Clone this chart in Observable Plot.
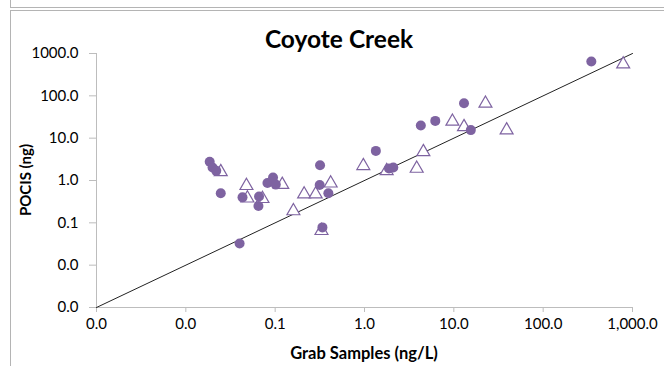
<!DOCTYPE html>
<html><head><meta charset="utf-8">
<script src="https://cdn.jsdelivr.net/npm/d3@7"></script>
<script src="https://cdn.jsdelivr.net/npm/@observablehq/plot@0.6"></script>
<style>
html,body{margin:0;padding:0;background:#fff;}
body{width:664px;height:366px;overflow:hidden;position:relative;font-family:Lato,"Open Sans",sans-serif;}
.frame1{position:absolute;left:10px;top:-20px;width:700px;height:26px;border:1px solid #b4b4b4;}
.frame2{position:absolute;left:10px;top:10px;width:700px;height:400px;border:1px solid #b4b4b4;}
#chart{position:absolute;left:0;top:0;}
#chart svg text{fill:#000;font-size:15px;font-family:Lato,sans-serif;}
.title{position:absolute;left:189px;top:27px;width:300px;text-align:center;font-weight:bold;font-size:24.5px;line-height:24px;color:#000;}
.xlabel{position:absolute;left:264px;top:345px;width:200px;text-align:center;font-weight:bold;font-size:16.5px;line-height:16px;color:#000;}
.ylabel{position:absolute;left:-35px;top:172px;width:120px;height:16px;text-align:center;font-weight:bold;font-size:15px;line-height:16px;color:#000;transform:rotate(-90deg);}
</style>
</head><body>
<div class="frame1"></div>
<div class="frame2"></div>
<div id="chart"></div>
<div class="title">Coyote Creek</div>
<div class="xlabel">Grab Samples (ng/L)</div>
<div class="ylabel">POCIS (ng)</div>
<script>
// Series A (filled circles): grab sample concentration vs POCIS mass
const circleX = [0.0185,0.0199,0.0219,0.0246,0.0431,0.040,0.066,0.065,0.082,0.0946,0.1016,0.318,0.315,0.394,0.338,1.34,1.88,2.1,4.27,6.2,13.0,15.5,346];
const circleY = [2.76,2.03,1.69,0.50,0.40,0.0325,0.42,0.25,0.87,1.18,0.80,2.30,0.78,0.50,0.078,5.0,1.92,2.03,20.0,25.6,67,15.5,647];
// Series B (open triangles)
const triangleX = [0.0246,0.0477,0.0489,0.0721,0.12,0.16,0.211,0.284,0.418,0.33,0.97,1.77,3.84,4.56,9.64,13.0,22.6,39,787];
const triangleY = [1.60,0.75,0.38,0.37,0.80,0.19,0.475,0.475,0.86,0.065,2.22,1.69,1.92,4.75,24.8,18.5,66,15.5,560];
// 1:1 reference line
const lineX = [0.001,1000];
const lineY = [0.001,1000];
const xTicks = [0.001,0.01,0.1,1,10,100,1000];
const yTicks = [0.001,0.01,0.1,1,10,100,1000];

const circles = circleX.map((x,i)=>({x, y:circleY[i]}));
const triangles = triangleX.map((x,i)=>({x, y:triangleY[i]}));
const oneToOne = lineX.map((x,i)=>({x, y:lineY[i]}));

const purple = "#7e63a1";
const axisGray = "#bdbdbd";

const plot = Plot.plot({
  width:664, height:366,
  marginLeft:96, marginRight:32, marginTop:53, marginBottom:59,
  style:{background:"none", color:axisGray, fontSize:"15px", fontFamily:"Lato, sans-serif", overflow:"visible"},
  x:{type:"log", domain:[0.001,1000], ticks:xTicks, tickFormat:d3.format(",.1f"), tickSize:5, tickPadding:6, label:null},
  y:{type:"log", domain:[0.001,1000], ticks:yTicks, tickFormat:d3.format(".1f"), tickSize:7, tickPadding:11, label:null},
  marks:[
    Plot.ruleX([xTicks[0]], {stroke:axisGray}),
    Plot.ruleY([yTicks[0]], {stroke:axisGray}),
    Plot.line(oneToOne, {x:"x", y:"y", stroke:"#222", strokeWidth:1}),
    Plot.dot(triangles, {x:"x", y:"y", symbol:"triangle", r:4.8, fill:"white", stroke:purple, strokeWidth:1.2}),
    Plot.dot(circles, {x:"x", y:"y", r:5, fill:purple})
  ]
});
document.getElementById("chart").appendChild(plot);
</script>
</body></html>
